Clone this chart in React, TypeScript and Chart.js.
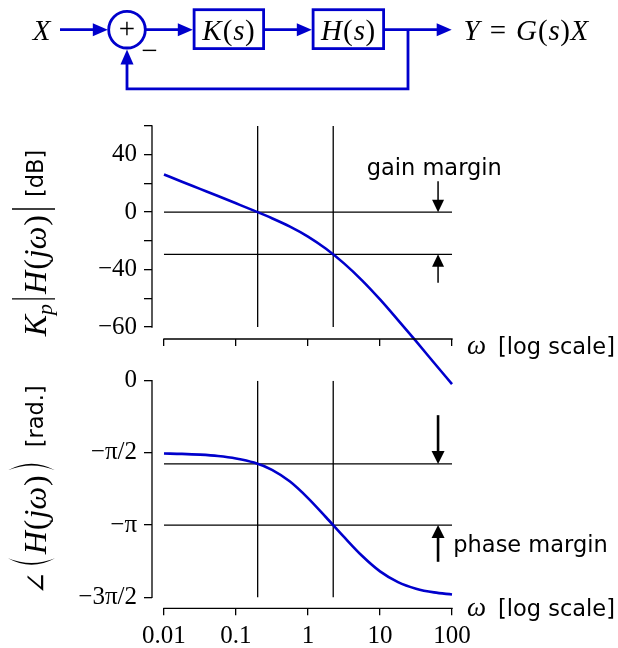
import React, { useEffect, useRef } from "react";
import { Chart, registerables } from "chart.js";

Chart.register(...registerables);

// ---------------- data ----------------
const omega = [0.01, 0.01778, 0.03162, 0.05623, 0.1, 0.1778, 0.3162, 0.5623, 1, 1.778, 3.162, 5.623, 10, 17.78, 31.62, 56.23, 100];
const magnitudeDb = [26.2, 21.2, 16.2, 11.2, 6.15, 1.06, -4.23, -10.05, -16.98, -25.5, -35.7, -47.5, -60.8, -75.2, -89.9, -104.9, -119.8];
const phaseRad = [-1.583, -1.592, -1.609, -1.638, -1.691, -1.782, -1.94, -2.195, -2.554, -2.971, -3.4, -3.81, -4.149, -4.382, -4.524, -4.606, -4.652];
const crossoverOmega = [0.2, 2.24];
const magRefLinesDb = [0, -29.4];
const phaseRefLinesRad = [-1.81, -3.1416];
const marginArrowOmega = 64;
const gainArrowTailsDb = [21.5, -49.2];
const phaseArrowTailsRad = [-0.75, -3.94];
const xTickValues = [0.01, 0.1, 1, 10, 100];
const xTickLabels = ["0.01", "0.1", "1", "10", "100"];
const magTickValues = [-80, -60, -40, -20, 0, 20, 40, 60];
const magTickLabels = ["\u221260", "", "\u221240", "", "0", "", "40", ""];
const phaseTickValues = [-4.7124, -3.1416, -1.5708, 0];
const phaseTickLabels = ["\u22123\u03c0/2", "\u2212\u03c0", "\u2212\u03c0/2", "0"];

const X_MIN = 0.006818;
const X_MAX = 146.7;
const MAG_MIN = -88.36;
const MAG_MAX = 60;
const PH_MIN = -4.952;
const PH_MAX = 0;

// ---------------- styling helpers ----------------
const W = 618;
const H = 648;
const BLUE = "#0000CC";
const SERIF = "'Liberation Serif', 'DejaVu Serif', serif";
const SANS = "'DejaVu Sans', sans-serif";
const mi = (s: number) => `italic ${s}px ${SERIF}`;
const mr = (s: number) => `${s}px ${SERIF}`;
const sf = (s: number) => `${s}px ${SANS}`;

type Run = { t: string; f: string; dy?: number; gap?: number };
type Piece = { runs?: Run[]; bar?: [number, number]; paren?: "L" | "R"; gap?: number };

function runsWidth(ctx: CanvasRenderingContext2D, runs: Run[]) {
  let w = 0;
  for (const r of runs) {
    ctx.font = r.f;
    w += ctx.measureText(r.t).width + (r.gap || 0);
  }
  return w;
}

function drawRuns(ctx: CanvasRenderingContext2D, runs: Run[], x: number, y: number, align: "left" | "center" | "right") {
  const total = runsWidth(ctx, runs);
  let cx = align === "center" ? x - total / 2 : align === "right" ? x - total : x;
  ctx.textAlign = "left";
  ctx.textBaseline = "alphabetic";
  for (const r of runs) {
    ctx.font = r.f;
    const g = (r.gap || 0) / 2;
    ctx.fillText(r.t, cx + g, y + (r.dy || 0));
    cx += ctx.measureText(r.t).width + (r.gap || 0);
  }
}

const PAREN_W = 13;
function drawParen(ctx: CanvasRenderingContext2D, t: number, side: "L" | "R", top: number, bottom: number) {
  const mid = (top + bottom) / 2;
  const s = side === "L" ? 1 : -1;
  const edge = side === "L" ? t + PAREN_W - 2 : t + 2;
  const outer = edge - s * 13;
  const inner = edge - s * 9.5;
  ctx.beginPath();
  ctx.moveTo(edge, top);
  ctx.quadraticCurveTo(outer, mid, edge, bottom);
  ctx.quadraticCurveTo(inner, mid, edge, top);
  ctx.closePath();
  ctx.fill();
}

function drawVerticalLabel(ctx: CanvasRenderingContext2D, pieces: Piece[], baseX: number, centerY: number) {
  const lens = pieces.map((p) => (p.runs ? runsWidth(ctx, p.runs) : p.paren ? PAREN_W : p.gap || 0));
  const total = lens.reduce((a, b) => a + b, 0);
  ctx.save();
  ctx.translate(baseX, centerY);
  ctx.rotate(-Math.PI / 2);
  ctx.fillStyle = "#000";
  ctx.strokeStyle = "#000";
  ctx.lineWidth = 1.4;
  let t = -total / 2;
  pieces.forEach((p, i) => {
    if (p.runs) drawRuns(ctx, p.runs, t, 0, "left");
    if (p.bar) {
      ctx.beginPath();
      ctx.moveTo(t, p.bar[0]);
      ctx.lineTo(t, p.bar[1]);
      ctx.stroke();
    }
    if (p.paren) drawParen(ctx, t, p.paren, -38, 9);
    t += lens[i];
  });
  ctx.restore();
}

function arrow(ctx: CanvasRenderingContext2D, x0: number, y0: number, x1: number, y1: number, lw: number, hl: number, hw: number) {
  const dx = x1 - x0;
  const dy = y1 - y0;
  const L = Math.hypot(dx, dy);
  const ux = dx / L;
  const uy = dy / L;
  const bx = x1 - ux * hl;
  const by = y1 - uy * hl;
  ctx.lineWidth = lw;
  ctx.beginPath();
  ctx.moveTo(x0, y0);
  ctx.lineTo(x1 - ux * hl * 0.5, y1 - uy * hl * 0.5);
  ctx.stroke();
  ctx.beginPath();
  ctx.moveTo(x1, y1);
  ctx.lineTo(bx - uy * hw, by + ux * hw);
  ctx.lineTo(bx + uy * hw, by - ux * hw);
  ctx.closePath();
  ctx.fill();
}

function drawDiagram(ctx: CanvasRenderingContext2D) {
  ctx.save();
  ctx.strokeStyle = BLUE;
  ctx.fillStyle = BLUE;
  ctx.lineWidth = 2.8;
  ctx.lineJoin = "miter";
  ctx.lineCap = "butt";
  const cy = 29.7;
  const hl = 15;
  const hw = 6.5;
  arrow(ctx, 60, cy, 107.8, cy, 2.8, hl, hw);
  ctx.lineWidth = 2.8;
  ctx.beginPath();
  ctx.arc(127, cy, 18.3, 0, Math.PI * 2);
  ctx.stroke();
  arrow(ctx, 145.3, cy, 192.8, cy, 2.8, hl, hw);
  ctx.lineWidth = 2.8;
  ctx.strokeRect(194.1, 9.7, 69.5, 38.9);
  arrow(ctx, 263.6, cy, 311.8, cy, 2.8, hl, hw);
  ctx.lineWidth = 2.8;
  ctx.strokeRect(313.1, 9.7, 70.5, 38.9);
  arrow(ctx, 383.6, cy, 451.7, cy, 2.8, hl, hw);
  ctx.lineWidth = 2.8;
  ctx.beginPath();
  ctx.moveTo(408, cy);
  ctx.lineTo(408, 88.9);
  ctx.lineTo(127, 88.9);
  ctx.lineTo(127, 60);
  ctx.stroke();
  arrow(ctx, 127, 62, 127, 49.6, 2.8, hl, hw);

  ctx.fillStyle = "#000";
  const fs = 29;
  drawRuns(ctx, [{ t: "X", f: mi(fs) }], 41.7, 39.5, "center");
  drawRuns(ctx, [{ t: "+", f: mr(fs) }], 127, cy + 8, "center");
  drawRuns(ctx, [{ t: "\u2212", f: mr(fs) }], 149.5, 60, "center");
  drawRuns(ctx, [{ t: "K", f: mi(fs) }, { t: "(", f: mr(fs), gap: 2 }, { t: "s", f: mi(fs) }, { t: ")", f: mr(fs), gap: 1 }], 228.8, 39.5, "center");
  drawRuns(ctx, [{ t: "H", f: mi(fs) }, { t: "(", f: mr(fs), gap: 2 }, { t: "s", f: mi(fs) }, { t: ")", f: mr(fs), gap: 1 }], 348.3, 39.5, "center");
  drawRuns(
    ctx,
    [
      { t: "Y", f: mi(fs) },
      { t: "=", f: mr(fs), gap: 20 },
      { t: "G", f: mi(fs) },
      { t: "(", f: mr(fs), gap: 2 },
      { t: "s", f: mi(fs) },
      { t: ")", f: mr(fs), gap: 1 },
      { t: "X", f: mi(fs) },
    ],
    463.5,
    39.5,
    "left"
  );
  ctx.restore();
}

function drawSpines(chart: any, yTop: number, yBottom: number) {
  const { ctx, chartArea: ca } = chart;
  const xs = chart.scales.x;
  const ys = chart.scales.y;
  ctx.strokeStyle = "#000";
  ctx.lineWidth = 1.3;
  ctx.beginPath();
  ctx.moveTo(ca.left, ys.getPixelForValue(yTop) - 0.65);
  ctx.lineTo(ca.left, ys.getPixelForValue(yBottom) + 0.65);
  ctx.moveTo(xs.getPixelForValue(xTickValues[0]) - 0.65, ca.bottom);
  ctx.lineTo(xs.getPixelForValue(xTickValues[xTickValues.length - 1]) + 0.65, ca.bottom);
  ctx.stroke();
}

function drawAxisWord(ctx: CanvasRenderingContext2D, baseline: number) {
  ctx.fillStyle = "#000";
  drawRuns(ctx, [{ t: "\u03c9", f: mi(27) }], 467, baseline, "left");
  ctx.font = sf(22.5);
  ctx.textAlign = "left";
  ctx.fillText("[log scale]", 498, baseline);
}

const topPlugin = {
  id: "topDecor",
  afterDraw(chart: any) {
    const { ctx } = chart;
    const xs = chart.scales.x;
    const ys = chart.scales.y;
    ctx.save();
    drawSpines(chart, magTickValues[magTickValues.length - 1], magTickValues[0]);
    ctx.fillStyle = "#000";
    ctx.strokeStyle = "#000";
    const ax = xs.getPixelForValue(marginArrowOmega);
    gainArrowTailsDb.forEach((tail, i) =>
      arrow(ctx, ax, ys.getPixelForValue(tail), ax, ys.getPixelForValue(magRefLinesDb[i]), 1.5, 12.5, 6)
    );
    ctx.fillStyle = "#000";
    ctx.font = sf(22.5);
    ctx.textAlign = "left";
    ctx.textBaseline = "alphabetic";
    ctx.fillText("gain margin", 366.7, 175);
    drawAxisWord(ctx, 353.5);
    drawVerticalLabel(
      ctx,
      [
        { runs: [{ t: "K", f: mi(32) }, { t: "p", f: mi(22), dy: 6 }] },
        { gap: 5 },
        { bar: [-34, 9] },
        { gap: 5 },
        { runs: [{ t: "H", f: mi(32) }, { t: "(", f: mr(32), gap: 2 }, { t: "j", f: mi(32) }, { t: "\u03c9", f: mi(32) }, { t: ")", f: mr(32), gap: 2 }] },
        { gap: 5 },
        { bar: [-34, 9] },
        { gap: 12 },
        { runs: [{ t: "[dB]", f: sf(22.5), dy: -3 }] },
      ],
      46,
      243
    );
    drawDiagram(ctx);
    ctx.restore();
  },
};

const bottomPlugin = {
  id: "bottomDecor",
  afterDraw(chart: any) {
    const { ctx } = chart;
    const xs = chart.scales.x;
    const ys = chart.scales.y;
    ctx.save();
    drawSpines(chart, phaseTickValues[phaseTickValues.length - 1], phaseTickValues[0]);
    ctx.fillStyle = "#000";
    ctx.strokeStyle = "#000";
    const ax = xs.getPixelForValue(marginArrowOmega);
    phaseArrowTailsRad.forEach((tail, i) =>
      arrow(ctx, ax, ys.getPixelForValue(tail), ax, ys.getPixelForValue(phaseRefLinesRad[i]), 2.6, 13, 6.5)
    );
    ctx.fillStyle = "#000";
    ctx.font = sf(22.5);
    ctx.textAlign = "left";
    ctx.textBaseline = "alphabetic";
    ctx.fillText("phase margin", 453.3, 552);
    drawAxisWord(ctx, 616.4);
    drawVerticalLabel(
      ctx,
      [
        { runs: [{ t: "\u2220", f: mr(28) }] },
        { gap: 2 },
        { paren: "L" },
        { gap: 2 },
        { runs: [{ t: "H", f: mi(32) }, { t: "(", f: mr(32), gap: 2 }, { t: "j", f: mi(32) }, { t: "\u03c9", f: mi(32) }, { t: ")", f: mr(32), gap: 2 }] },
        { gap: 2 },
        { paren: "R" },
        { gap: 12 },
        { runs: [{ t: "[rad.]", f: sf(22.5), dy: -3 }] },
      ],
      46,
      490
    );
    ctx.restore();
  },
};

function lineSeg(x0: number, y0: number, x1: number, y1: number) {
  return {
    data: [
      { x: x0, y: y0 },
      { x: x1, y: y1 },
    ],
    borderColor: "#000",
    borderWidth: 1.3,
    pointRadius: 0,
    tension: 0,
  };
}

function makeConfig(kind: "mag" | "phase"): any {
  const isMag = kind === "mag";
  const yVals = isMag ? magnitudeDb : phaseRad;
  const refs = isMag ? magRefLinesDb : phaseRefLinesRad;
  const yTicks = isMag ? magTickValues : phaseTickValues;
  const yLabels = isMag ? magTickLabels : phaseTickLabels;
  const yLo = yTicks[0];
  const yHi = yTicks[yTicks.length - 1];
  const x0 = xTickValues[0];
  const x1 = xTickValues[xTickValues.length - 1];
  const tickFont = { family: "'Liberation Serif'", size: 25 };
  return {
    type: "line",
    data: {
      datasets: [
        {
          data: omega.map((w, i) => ({ x: w, y: yVals[i] })),
          borderColor: BLUE,
          borderWidth: 2.6,
          pointRadius: 0,
          cubicInterpolationMode: "monotone",
          clip: false,
        },
        ...refs.map((v) => lineSeg(x0, v, x1, v)),
        ...crossoverOmega.map((f) => lineSeg(f, yLo, f, yHi)),
      ],
    },
    options: {
      animation: false,
      responsive: true,
      maintainAspectRatio: false,
      events: [],
      layout: {
        padding: isMag
          ? { left: 0, right: 154, top: 126, bottom: 289 }
          : { left: 0, right: 154, top: 380.7, bottom: 0 },
      },
      plugins: { legend: { display: false }, tooltip: { enabled: false } },
      scales: {
        x: {
          type: "logarithmic",
          min: X_MIN,
          max: X_MAX,
          afterBuildTicks: (s: any) => {
            s.ticks = xTickValues.map((v) => ({ value: v }));
          },
          afterFit: (s: any) => {
            s.height = isMag ? 20 : 39.7;
          },
          ticks: {
            display: !isMag,
            autoSkip: false,
            maxRotation: 0,
            padding: 6,
            color: "#000",
            font: tickFont,
            callback: (_v: any, i: number) => xTickLabels[i],
          },
          grid: { drawOnChartArea: false, drawTicks: true, tickLength: 7, color: "#000", lineWidth: 1.3 },
          border: { display: false },
        },
        y: {
          type: "linear",
          min: isMag ? MAG_MIN : PH_MIN,
          max: isMag ? MAG_MAX : PH_MAX,
          afterBuildTicks: (s: any) => {
            s.ticks = yTicks.map((v) => ({ value: v }));
          },
          afterFit: (s: any) => {
            s.width = 152;
          },
          ticks: {
            autoSkip: false,
            padding: 7,
            color: "#000",
            font: tickFont,
            callback: (_v: any, i: number) => yLabels[i],
          },
          grid: { drawOnChartArea: false, drawTicks: true, tickLength: 8, color: "#000", lineWidth: 1.3 },
          border: { display: false },
        },
      },
    },
    plugins: [isMag ? topPlugin : bottomPlugin],
  };
}

function ChartLayer({ kind }: { kind: "mag" | "phase" }) {
  const ref = useRef<HTMLCanvasElement | null>(null);
  useEffect(() => {
    if (!ref.current) return;
    const chart = new Chart(ref.current, makeConfig(kind));
    return () => chart.destroy();
  }, [kind]);
  return (
    <div style={{ position: "absolute", left: 0, top: 0, width: W, height: H }}>
      <canvas ref={ref} />
    </div>
  );
}

export default function App() {
  return (
    <div style={{ position: "fixed", left: 0, top: 0, width: W, height: H, background: "#fff" }}>
      <ChartLayer kind="mag" />
      <ChartLayer kind="phase" />
    </div>
  );
}
